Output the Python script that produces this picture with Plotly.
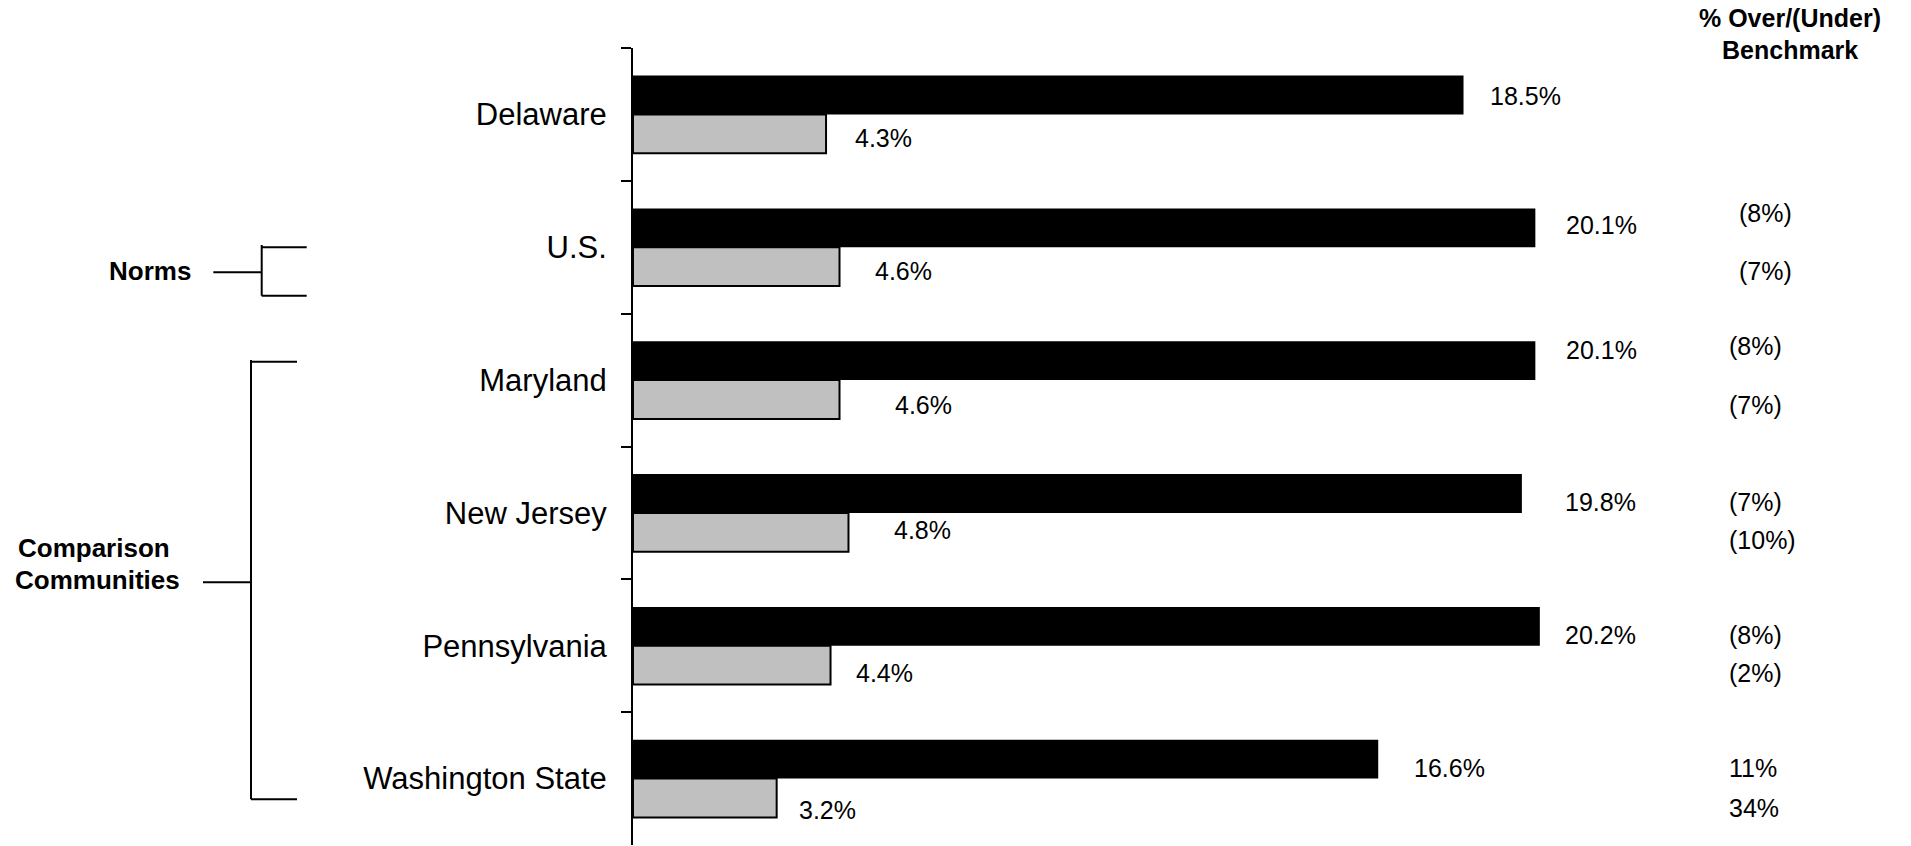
import plotly.graph_objects as go

# ---------------- data ----------------
categories = ["Delaware", "U.S.", "Maryland", "New Jersey", "Pennsylvania", "Washington State"]
series_black = [18.5, 20.1, 20.1, 19.8, 20.2, 16.6]
series_gray = [4.3, 4.6, 4.6, 4.8, 4.4, 3.2]
bench_black = ["", "(8%)", "(8%)", "(7%)", "(8%)", "11%"]
bench_gray = ["", "(7%)", "(7%)", "(10%)", "(2%)", "34%"]
column_header = ["% Over/(Under)", "Benchmark"]
group_labels = ["Norms", "Comparison", "Communities"]

# ---------------- styling / placement ----------------
W, H = 1911, 846
L, R, T, B = 633, 21, 48, 1
PW, PH = W - L - R, H - T - B
FONT = "Arial, 'Liberation Sans', sans-serif"

def px_x(px):
    return (px - L) / PW

def px_y(py):
    return (H - B - py) / PH

# label offsets (pixels): x gap from bar end, y offset from category centre (down positive)
black_gap = [24, 29, 29, 41, 23, 34]
black_dy = [-18, -22.5, -29.6, -11.3, -10.8, -10.3]
gray_gap = [27, 33, 53, 44, 23, 20]
gray_dy = [23.6, 24.2, 24.7, 17, 27.5, 31.4]
col_x = [1737, 1737, 1727, 1727, 1727, 1727]
col_top_dy = [0, -34.2, -33.6, -11.3, -10.8, -10.3]
col_bot_dy = [0, 24.2, 24.7, 27, 27.5, 29.7]

fig = go.Figure()
fig.add_trace(go.Bar(
    y=categories, x=series_black, orientation="h",
    marker=dict(color="black", line=dict(width=0)), name="Series 1",
))
fig.add_trace(go.Bar(
    y=categories, x=series_gray, orientation="h",
    marker=dict(color="#c0c0c0", line=dict(color="black", width=2)), name="Series 2",
))

ann = []
for i, c in enumerate(categories):
    ann.append(dict(x=series_black[i], y=c, xref="x", yref="y", text=f"{series_black[i]:.1f}%",
                    xanchor="left", yanchor="middle", xshift=black_gap[i], yshift=-black_dy[i],
                    showarrow=False, font=dict(size=25, color="black", family=FONT)))
    ann.append(dict(x=series_gray[i], y=c, xref="x", yref="y", text=f"{series_gray[i]:.1f}%",
                    xanchor="left", yanchor="middle", xshift=gray_gap[i], yshift=-gray_dy[i],
                    showarrow=False, font=dict(size=25, color="black", family=FONT)))
    if bench_black[i]:
        ann.append(dict(x=px_x(col_x[i]), y=c, xref="paper", yref="y", text=bench_black[i],
                        xanchor="left", yanchor="middle", yshift=-col_top_dy[i],
                        showarrow=False, font=dict(size=25, color="black", family=FONT)))
    if bench_gray[i]:
        ann.append(dict(x=px_x(col_x[i]), y=c, xref="paper", yref="y", text=bench_gray[i],
                        xanchor="left", yanchor="middle", yshift=-col_bot_dy[i],
                        showarrow=False, font=dict(size=25, color="black", family=FONT)))

# column header
for txt, py in zip(column_header, [18.3, 50]):
    ann.append(dict(x=px_x(1790), y=px_y(py), xref="paper", yref="paper", text=f"<b>{txt}</b>",
                    xanchor="center", yanchor="middle", showarrow=False,
                    font=dict(size=25, color="black", family=FONT)))

# group labels on the left
for txt, px, py in zip(group_labels, [150, 94, 97], [271, 548.3, 580]):
    ann.append(dict(x=px_x(px), y=px_y(py), xref="paper", yref="paper", text=f"<b>{txt}</b>",
                    xanchor="center", yanchor="middle", showarrow=False,
                    font=dict(size=26, color="black", family=FONT)))

# bracket shapes
segs = [
    # Norms bracket
    (261.7, 245, 261.7, 295.7),
    (261.7, 247.3, 306.7, 247.3),
    (261.7, 295.7, 306.7, 295.7),
    (213.3, 272.3, 261.7, 272.3),
    # Comparison Communities bracket
    (251, 360, 251, 799.3),
    (251, 361.7, 297, 361.7),
    (251, 799.3, 297, 799.3),
    (203, 582.3, 251, 582.3),
]
shapes = [dict(type="line", xref="paper", yref="paper",
               x0=px_x(a), y0=px_y(b), x1=px_x(c), y1=px_y(d),
               line=dict(color="black", width=2)) for a, b, c, d in segs]

fig.update_layout(
    width=W, height=H,
    margin=dict(l=L, r=R, t=T, b=B, pad=0),
    paper_bgcolor="white", plot_bgcolor="white",
    barmode="group", bargap=0.415, bargroupgap=0,
    showlegend=False,
    annotations=ann, shapes=shapes,
    font=dict(family=FONT, color="black"),
)
fig.update_xaxes(range=[0, 28], visible=False, showgrid=False, zeroline=False)
fig.update_yaxes(
    type="category", categoryorder="array", categoryarray=categories,
    autorange="reversed",
    showline=True, linecolor="black", linewidth=2,
    ticks="outside", tickson="boundaries", ticklen=10, tickwidth=2, tickcolor="black",
    tickfont=dict(size=31, color="black", family=FONT),
    ticklabelstandoff=18,
    showgrid=False, zeroline=False,
)

fig.write_html("out.html")
